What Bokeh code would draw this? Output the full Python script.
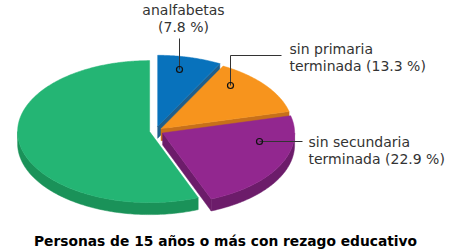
import numpy as np
from bokeh.plotting import figure
from bokeh.models import Range1d
from bokeh.core.properties import value
from bokeh.embed import file_html
from bokeh.resources import INLINE

# ---------------- data ----------------
categories = ["analfabetas", "sin primaria terminada", "sin secundaria terminada", "resto"]
values = [7.8, 13.3, 22.9, 56.0]
show_label = [True, True, True, False]
title_text = "Personas de 15 años o más con rezago educativo"

# ---------------- style / layout ----------------
top_colors = ["#0872BC", "#F7941D", "#92278F", "#24B574"]
side_colors = ["#1F5F8C", "#C7701A", "#6C1C6A", "#1A9259"]
explode = [9, 7, 8, 6]
draw_order = [3, 0, 1, 2]
CX, CY, RX, RY, DEPTH = 155.0, 130.5, 132.0, 71.0, 12.0

label_layout = {
    0: dict(x=183, ys=[9, 26], align="center", path=[(179, 69), (179, 38)]),
    1: dict(x=289, ys=[48, 65], align="left", path=[(230, 85), (230, 55), (281, 55)]),
    2: dict(x=308, ys=[141, 158], align="left", path=[(259, 141), (302, 141)]),
}

p = figure(width=450, height=250, output_backend="svg", toolbar_location=None,
           x_range=Range1d(0, 450), y_range=Range1d(250, 0), min_border=0)
p.axis.visible = False
p.grid.visible = False
p.outline_line_color = None
p.background_fill_color = "white"
p.border_fill_color = "white"

total = float(sum(values))
cum = np.concatenate([[0.0], np.cumsum(values)]) / total * 360.0


def pt(ax, ay, deg):
    t = np.radians(deg)
    return ax + RX * np.sin(t), ay - RY * np.cos(t)


for i in draw_order:
    a0, a1 = cum[i], cum[i + 1]
    mid = np.radians((a0 + a1) / 2)
    ax = CX + explode[i] * np.sin(mid)
    ay = CY - explode[i] * (RY / RX) * np.cos(mid)
    # start / end cut faces
    faces = []
    if np.sin(np.radians(a1)) > 1e-6:
        faces.append(a1)
    if np.sin(np.radians(a0)) < -1e-6:
        faces.append(a0)
    for a in faces:
        ox, oy = pt(ax, ay, a)
        p.patch([ax, ox, ox, ax], [ay, oy, oy + DEPTH, ay + DEPTH],
                fill_color=side_colors[i], line_color=side_colors[i], line_width=0.5)
    # outer curved side (front half)
    s0, s1 = max(a0, 90.0), min(a1, 270.0)
    if s1 > s0:
        aa = np.linspace(s0, s1, 120)
        xs, ys = pt(ax, ay, aa)
        p.patch(list(xs) + list(xs[::-1]), list(ys) + list((ys + DEPTH)[::-1]),
                fill_color=side_colors[i], line_color=side_colors[i], line_width=0.5)
    # top surface
    aa = np.linspace(a0, a1, max(int((a1 - a0) * 2), 10))
    xs, ys = pt(ax, ay, aa)
    p.patch([ax] + list(xs), [ay] + list(ys),
            fill_color=top_colors[i], line_color=top_colors[i], line_width=0.5)

# labels with leader lines
for i, cat in enumerate(categories):
    if not show_label[i]:
        continue
    words = cat.split()
    if len(words) == 1:
        lines = [cat, f"({values[i]} %)"]
    else:
        lines = [" ".join(words[:2]), " ".join(words[2:]) + f" ({values[i]} %)"]
    lay = label_layout[i]
    px = [q[0] for q in lay["path"]]
    py = [q[1] for q in lay["path"]]
    p.line(px, py, line_color="#333333", line_width=1)
    p.scatter([px[0]], [py[0]], size=6, fill_alpha=0, line_color="#111111", line_width=1.2)
    p.text([lay["x"]] * 2, lay["ys"], text=lines, text_font=value("DejaVu Sans"),
           text_font_size="14px", text_align=lay["align"], text_baseline="middle",
           text_color="#333333")

p.text([225], [240], text=[title_text], text_font=value("DejaVu Sans"), text_font_style="bold",
       text_font_size="13.8px", text_align="center", text_baseline="middle", text_color="#000000")

open("out.html", "w").write(file_html(p, INLINE))
